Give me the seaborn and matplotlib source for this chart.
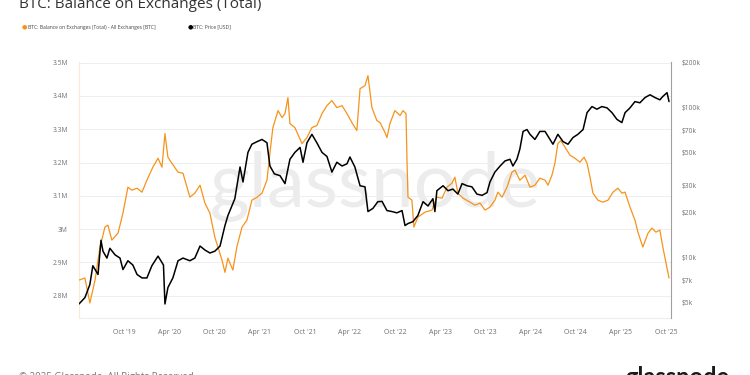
"""BTC balance on exchanges vs BTC price (glassnode style chart)."""

import matplotlib

matplotlib.use("Agg")
import matplotlib.dates as mdates
import matplotlib.pyplot as plt
import matplotlib.ticker as mticker
import pandas as pd
import seaborn as sns

# --- data --------------------------------------------------------------
balance_dates = [
    "2019-03-31", "2019-04-24", "2019-05-14", "2019-06-04", "2019-06-24",
    "2019-07-14", "2019-07-26", "2019-08-11", "2019-09-05", "2019-09-25",
    "2019-10-15", "2019-10-31", "2019-11-21", "2019-12-11", "2019-12-31",
    "2020-01-24", "2020-02-14", "2020-03-01", "2020-03-13", "2020-03-25",
    "2020-04-10", "2020-05-05", "2020-05-25", "2020-06-22", "2020-07-12",
    "2020-08-02", "2020-08-22", "2020-09-11", "2020-10-01", "2020-10-30",
    "2020-11-11", "2020-11-23", "2020-12-01", "2020-12-13", "2020-12-29",
    "2021-01-19", "2021-02-08", "2021-02-28", "2021-03-21", "2021-04-10",
    "2021-04-30", "2021-05-12", "2021-05-24", "2021-06-14", "2021-06-30",
    "2021-07-12", "2021-07-24", "2021-08-01", "2021-08-21", "2021-09-19",
    "2021-10-09", "2021-10-29", "2021-11-18", "2021-12-09", "2021-12-29",
    "2022-01-18", "2022-02-07", "2022-02-28", "2022-03-20", "2022-04-09",
    "2022-04-29", "2022-05-12", "2022-06-01", "2022-06-13", "2022-06-29",
    "2022-07-19", "2022-08-01", "2022-08-21", "2022-08-29", "2022-09-10",
    "2022-09-30", "2022-10-21", "2022-11-02", "2022-11-14", "2022-11-18",
    "2022-11-22", "2022-12-08", "2022-12-16", "2023-01-01", "2023-01-30",
    "2023-02-27", "2023-03-19", "2023-04-09", "2023-04-29", "2023-05-19",
    "2023-05-31", "2023-06-12", "2023-07-03", "2023-07-31", "2023-08-20",
    "2023-09-10", "2023-09-30", "2023-10-20", "2023-11-09", "2023-11-21",
    "2023-12-08", "2023-12-28", "2024-01-17", "2024-01-29", "2024-02-18",
    "2024-03-10", "2024-03-30", "2024-04-19", "2024-05-09", "2024-05-30",
    "2024-06-11", "2024-06-27", "2024-07-09", "2024-07-21", "2024-08-02",
    "2024-08-19", "2024-09-08", "2024-09-28", "2024-10-18", "2024-11-04",
    "2024-11-16", "2024-11-28", "2024-12-10", "2024-12-30", "2025-01-19",
    "2025-02-09", "2025-03-01", "2025-03-21", "2025-04-06", "2025-04-19",
    "2025-05-09", "2025-05-29", "2025-06-10", "2025-06-30", "2025-07-21",
    "2025-08-06", "2025-08-22", "2025-09-07", "2025-09-19", "2025-10-02",
    "2025-10-14",
]
balance_m = [  # BTC on exchanges, millions
    2.847, 2.853, 2.778, 2.847, 2.946,
    3.006, 3.012, 2.967, 2.988, 3.048,
    3.126, 3.117, 3.123, 3.111, 3.147,
    3.186, 3.213, 3.186, 3.287, 3.216,
    3.198, 3.171, 3.168, 3.096, 3.108,
    3.132, 3.078, 3.048, 2.976, 2.907,
    2.870, 2.913, 2.898, 2.877, 2.946,
    3.006, 3.027, 3.087, 3.096, 3.108,
    3.147, 3.228, 3.305, 3.356, 3.335,
    3.347, 3.395, 3.317, 3.305, 3.257,
    3.275, 3.305, 3.311, 3.347, 3.371,
    3.386, 3.365, 3.371, 3.347, 3.320,
    3.296, 3.422, 3.431, 3.461, 3.365,
    3.326, 3.320, 3.290, 3.275, 3.317,
    3.356, 3.341, 3.356, 3.347, 3.207,
    3.096, 3.087, 3.006, 3.036, 3.051,
    3.057, 3.096, 3.093, 3.126, 3.138,
    3.156, 3.108, 3.093, 3.081, 3.072,
    3.078, 3.057, 3.066, 3.087, 3.111,
    3.096, 3.126, 3.171, 3.177, 3.147,
    3.162, 3.126, 3.132, 3.153, 3.147,
    3.132, 3.162, 3.198, 3.257, 3.266,
    3.246, 3.222, 3.213, 3.201, 3.216,
    3.198, 3.156, 3.108, 3.087, 3.081,
    3.087, 3.111, 3.123, 3.108, 3.111,
    3.066, 3.027, 2.991, 2.946, 2.988,
    3.003, 2.991, 2.997, 2.946, 2.898,
    2.853,
]

price_dates = [
    "2019-03-31", "2019-04-24", "2019-05-14", "2019-05-26", "2019-06-16",
    "2019-06-28", "2019-07-06", "2019-07-22", "2019-08-03", "2019-08-24",
    "2019-09-13", "2019-09-25", "2019-10-15", "2019-11-04", "2019-11-21",
    "2019-12-11", "2019-12-31", "2020-01-20", "2020-02-14", "2020-03-07",
    "2020-03-13", "2020-03-25", "2020-04-14", "2020-05-05", "2020-05-25",
    "2020-06-22", "2020-07-12", "2020-08-02", "2020-08-22", "2020-09-11",
    "2020-10-01", "2020-10-22", "2020-11-11", "2020-11-23", "2020-12-21",
    "2021-01-11", "2021-01-23", "2021-02-12", "2021-02-28", "2021-03-21",
    "2021-04-10", "2021-04-30", "2021-05-12", "2021-05-30", "2021-06-22",
    "2021-07-12", "2021-08-01", "2021-08-21", "2021-09-11", "2021-09-23",
    "2021-10-09", "2021-10-29", "2021-11-18", "2021-12-09", "2021-12-29",
    "2022-01-18", "2022-02-07", "2022-02-28", "2022-03-20", "2022-04-01",
    "2022-04-21", "2022-05-12", "2022-06-01", "2022-06-13", "2022-07-03",
    "2022-07-23", "2022-08-09", "2022-08-29", "2022-09-18", "2022-10-08",
    "2022-10-29", "2022-11-10", "2022-11-22", "2022-12-12", "2023-01-01",
    "2023-01-22", "2023-02-11", "2023-03-03", "2023-03-11", "2023-03-19",
    "2023-04-13", "2023-05-03", "2023-05-23", "2023-06-12", "2023-06-29",
    "2023-07-19", "2023-08-08", "2023-08-28", "2023-09-18", "2023-10-08",
    "2023-10-20", "2023-11-09", "2023-11-30", "2023-12-20", "2024-01-09",
    "2024-01-21", "2024-02-06", "2024-02-18", "2024-03-02", "2024-03-18",
    "2024-03-30", "2024-04-19", "2024-05-09", "2024-05-30", "2024-06-19",
    "2024-07-01", "2024-07-21", "2024-08-11", "2024-08-31", "2024-09-20",
    "2024-10-10", "2024-10-31", "2024-11-16", "2024-12-06", "2024-12-26",
    "2025-01-15", "2025-02-05", "2025-02-25", "2025-03-17", "2025-04-06",
    "2025-04-19", "2025-05-09", "2025-05-29", "2025-06-18", "2025-07-09",
    "2025-07-29", "2025-08-18", "2025-09-07", "2025-09-19", "2025-10-06",
    "2025-10-14",
]
price_k = [  # BTC price, thousand USD
    4.9, 5.4, 6.6, 8.8, 7.7,
    13.0, 11.0, 9.9, 11.5, 10.4,
    9.9, 8.3, 9.5, 8.9, 7.7,
    7.3, 7.3, 8.8, 10.2, 8.9,
    4.9, 6.3, 7.3, 9.5, 9.9,
    9.5, 9.9, 11.9, 11.2, 10.7,
    11.0, 11.9, 16.3, 19.0, 24.6,
    40.0, 31.8, 50.0, 56.7, 59.0,
    61.0, 58.0, 40.6, 36.0, 35.0,
    31.0, 45.0, 50.0, 54.0, 43.0,
    58.0, 66.0, 58.0, 50.0, 47.0,
    37.0, 43.0, 40.6, 42.0, 46.6,
    40.0, 30.0, 29.5, 20.2, 21.2,
    23.5, 23.6, 20.5, 20.2, 19.8,
    20.5, 16.3, 16.8, 17.3, 19.0,
    23.5, 22.0, 24.6, 20.2, 27.8,
    30.0, 27.8, 28.5, 26.4, 31.0,
    30.0, 29.5, 26.4, 25.9, 27.0,
    31.8, 37.0, 40.6, 43.9, 45.0,
    40.6, 45.0, 52.6, 69.0, 71.0,
    66.0, 61.0, 69.0, 69.0, 61.0,
    56.7, 66.0, 59.0, 56.7, 62.8,
    66.0, 71.0, 92.0, 101.0, 97.0,
    101.0, 99.0, 92.0, 83.0, 79.0,
    92.0, 99.0, 109.0, 107.0, 116.0,
    121.0, 116.0, 112.0, 118.0, 125.0,
    109.0,
]

left_ticks = [2.8, 2.9, 3.0, 3.1, 3.2, 3.3, 3.4, 3.5]
right_ticks = [5, 7, 10, 20, 30, 50, 70, 100, 200]
x_ticks = [
    "2019-10-01", "2020-04-01", "2020-10-01", "2021-04-01", "2021-10-01",
    "2022-04-01", "2022-10-01", "2023-04-01", "2023-10-01", "2024-04-01",
    "2024-10-01", "2025-04-01", "2025-10-01",
]

ORANGE = "#f7931a"
TICK_GRAY = "#707070"

balance = pd.DataFrame({"date": pd.to_datetime(balance_dates), "btc": balance_m})
price = pd.DataFrame({"date": pd.to_datetime(price_dates), "usd": price_k})

sns.set_style("white")
plt.rcParams["font.family"] = ["Open Sans", "DejaVu Sans"]

fig = plt.figure(figsize=(7.5, 3.75), dpi=100)
ax = fig.add_axes([79 / 750, 1 - 318 / 375, 592 / 750, 256 / 375])
ax2 = ax.twinx()

# watermark behind everything
ax.text(0.5, 0.435, "glassnode", transform=ax.transAxes, ha="center",
        va="baseline", fontsize=55, color="#ececec", family="Lato", zorder=0)

sns.lineplot(data=balance, x="date", y="btc", ax=ax, color=ORANGE,
             linewidth=0.9, zorder=3)
sns.lineplot(data=price, x="date", y="usd", ax=ax2, color="black",
             linewidth=1.1, zorder=3)

# left axis (balance)
ax.set_ylim(2.733, 3.502)
ax.set_yticks(left_ticks)
ax.set_yticklabels([f"{v:g}M" for v in left_ticks])
ax.yaxis.grid(True, color="#eeeeee", linewidth=0.7)
ax.set_axisbelow(True)
ax.set_xlabel("")
ax.set_ylabel("")

# right axis (price, log)
ax2.set_yscale("log")
ax2.set_ylim(3.95, 200)
ax2.yaxis.set_major_locator(mticker.FixedLocator(right_ticks))
ax2.yaxis.set_minor_locator(mticker.NullLocator())
ax2.set_yticklabels([f"${v}k" for v in right_ticks])
ax2.set_ylabel("")

# x axis
ax.set_xlim(pd.Timestamp("2019-03-31"), pd.Timestamp("2025-10-22"))
ax.set_xticks(pd.to_datetime(x_ticks))
ax.xaxis.set_major_formatter(mdates.DateFormatter("%b '%y"))

ax.tick_params(axis="y", length=0, pad=8, labelsize=4.8, labelcolor=TICK_GRAY)
ax.tick_params(axis="x", length=3, width=0.5, color="#e4e4e4", pad=5,
               labelsize=5, labelcolor=TICK_GRAY)
ax2.tick_params(axis="y", length=0, pad=8, labelsize=4.8, labelcolor=TICK_GRAY)

for a in (ax, ax2):
    for side in ("top", "left", "right", "bottom"):
        a.spines[side].set_visible(False)
ax.spines["left"].set_visible(True)
ax.spines["left"].set_color("#fde9d2")
ax.spines["left"].set_linewidth(0.8)
ax.spines["bottom"].set_visible(True)
ax.spines["bottom"].set_color("#eeeeee")
ax.spines["bottom"].set_linewidth(0.8)
ax2.spines["right"].set_visible(True)
ax2.spines["right"].set_color("#a0a0a0")
ax2.spines["right"].set_linewidth(0.8)

# title, legend, footer (title and footer are clipped by the frame, as in the source)
fig.text(19 / 750, 1 - 8 / 375, "BTC: Balance on Exchanges (Total)",
         fontsize=11, color="#333333", ha="left", va="baseline")
fig.text(24 / 750, 1 - 27 / 375, "\u25cf", fontsize=4.5, color=ORANGE,
         ha="center", va="center", family="DejaVu Sans")
fig.text(28 / 750, 1 - 27 / 375,
         "BTC: Balance on Exchanges (Total) - All Exchanges [BTC]",
         fontsize=3.6, color="#444444", ha="left", va="center")
fig.text(190 / 750, 1 - 27 / 375, "\u25cf", fontsize=4.5, color="black",
         ha="center", va="center", family="DejaVu Sans")
fig.text(193 / 750, 1 - 27 / 375, "BTC: Price [USD]",
         fontsize=3.6, color="#444444", ha="left", va="center")
fig.text(19 / 750, 1 - 372 / 375, "\u00a9 2025 Glassnode. All Rights Reserved.",
         fontsize=7, color="#777777", ha="left", va="top")
fig.text(730 / 750, 1 - 366 / 375, "glassnode", fontsize=17, color="#1a1a1a",
         ha="right", va="top", family="Lato", fontweight="bold")

fig.savefig("out.png", dpi=100, facecolor="white")
